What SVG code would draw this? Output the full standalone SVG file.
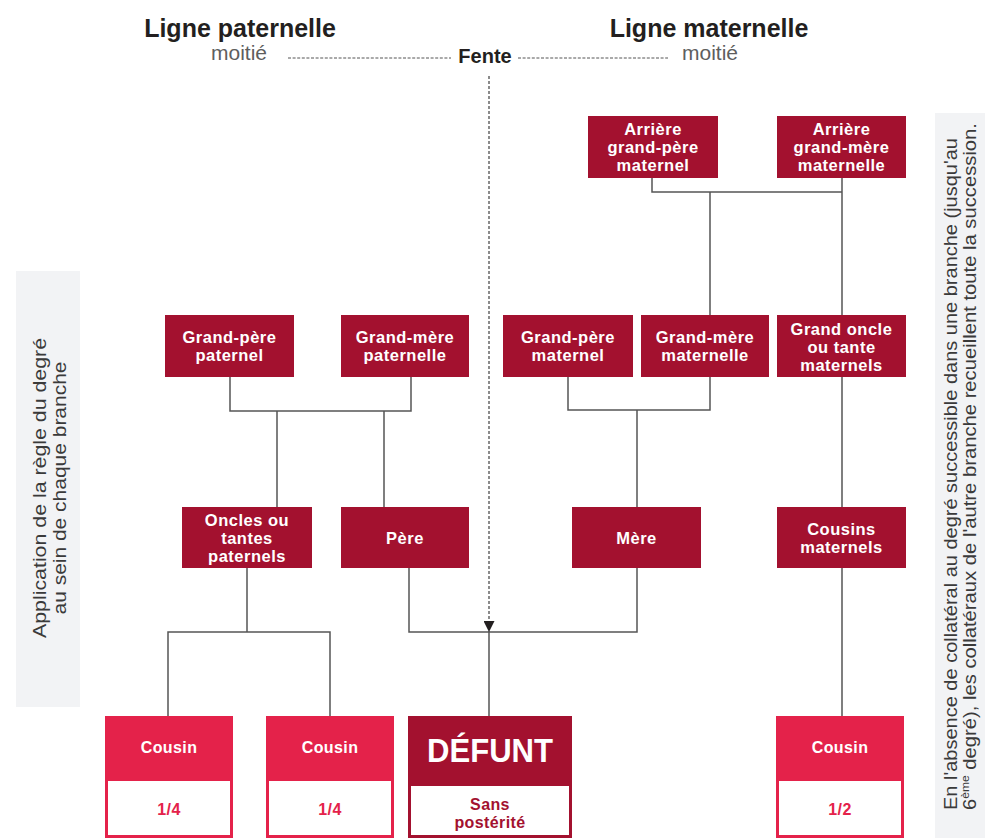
<svg xmlns="http://www.w3.org/2000/svg" width="987" height="838" viewBox="0 0 987 838">
<defs>
<style>
.dk{fill:#a3112f}
.br{fill:#e4224a}
.nt{font-family:'Liberation Sans',Arial,sans-serif;font-weight:bold;font-size:16.5px;fill:#fff;text-anchor:middle;letter-spacing:0.5px}
.ct{font-family:'Liberation Sans',Arial,sans-serif;font-weight:bold;font-size:16px;fill:#fff;text-anchor:middle;letter-spacing:0.4px}
.fr{font-family:'Liberation Sans',Arial,sans-serif;font-weight:bold;font-size:16px;fill:#e4224a;text-anchor:middle;letter-spacing:0.4px}
.frd{font-family:'Liberation Sans',Arial,sans-serif;font-weight:bold;font-size:16px;fill:#a3112f;text-anchor:middle;letter-spacing:0.4px}
.hd{font-family:'Liberation Sans',Arial,sans-serif;font-weight:bold;font-size:25px;fill:#231f20;text-anchor:middle}
.mo{font-family:'Liberation Sans',Arial,sans-serif;font-size:21px;fill:#5e5e5e;text-anchor:middle}
.side{font-family:'Liberation Sans',Arial,sans-serif;font-size:18.5px;fill:#3a3a3a}
.ln{stroke:#555;stroke-width:1.5;fill:none}
.wp{fill:#fff;stroke:#e4224a;stroke-width:3}
.wpd{fill:#fff;stroke:#a3112f;stroke-width:3}
</style>
<marker id="arr" viewBox="0 0 10 10" refX="10" refY="5" markerUnits="userSpaceOnUse" markerWidth="13" markerHeight="11" orient="auto">
<path d="M0,0 L10,5 L0,10 z" fill="#231f20"/>
</marker>
</defs>
<rect width="987" height="838" fill="#fff"/>

<g id="header">
<text class="hd" x="240" y="37">Ligne paternelle</text>
<text class="hd" x="709" y="37">Ligne maternelle</text>
<text class="mo" x="239" y="60">moitié</text>
<text class="mo" x="710" y="60">moitié</text>
<text x="485" y="63" font-family="'Liberation Sans',Arial,sans-serif" font-weight="bold" font-size="20" fill="#231f20" text-anchor="middle">Fente</text>
<path d="M288,58 H451 M518,58 H668" stroke="#555" stroke-width="1" stroke-dasharray="3 1.6" fill="none"/>
</g>

<g id="side-left">
<rect x="16" y="271" width="64" height="436" fill="#f2f3f5"/>
<text class="side" transform="translate(46,488) rotate(-90)" text-anchor="middle" textLength="300" lengthAdjust="spacingAndGlyphs">Application de la règle du degré</text>
<text class="side" transform="translate(66,488) rotate(-90)" text-anchor="middle" textLength="253" lengthAdjust="spacingAndGlyphs">au sein de chaque branche</text>
</g>

<g id="side-right">
<rect x="935" y="113" width="50" height="725" fill="#f2f3f5"/>
<text class="side" transform="translate(957,810) rotate(-90)" textLength="672" lengthAdjust="spacingAndGlyphs">En l'absence de collatéral au degré successible dans une branche (jusqu'au</text>
<text class="side" transform="translate(976,810) rotate(-90)" textLength="687" lengthAdjust="spacingAndGlyphs">6<tspan font-size="11" dy="-7">ème</tspan><tspan dy="7"> degré), les collatéraux de l'autre branche recueillent toute la succession.</tspan></text>
</g>

<g id="connectors">
<path class="ln" d="M652,178 V192 H842"/>
<path class="ln" d="M710,192 V315"/>
<path class="ln" d="M842,178 V315"/>
<path class="ln" d="M842,377 V507"/>
<path class="ln" d="M842,568 V716"/>
<path class="ln" d="M230,377 V411 H411 V377"/>
<path class="ln" d="M277,411 V507 M384,411 V507"/>
<path class="ln" d="M568,377 V410 H710 V377"/>
<path class="ln" d="M637,410 V507"/>
<path class="ln" d="M247,568 V632 M168,716 V632 H330 V716"/>
<path class="ln" d="M409,568 V632 H637 V568"/>
<path class="ln" d="M489,632 V716"/>
<path d="M489,76 V632" stroke="#666" stroke-width="1.5" stroke-dasharray="3 2" fill="none" marker-end="url(#arr)"/>
</g>

<g id="arriere-gp-maternel">
<rect class="dk" x="588" y="116" width="130" height="62"/>
<text class="nt" x="653" y="135">Arrière</text>
<text class="nt" x="653" y="153">grand-père</text>
<text class="nt" x="653" y="171">maternel</text>
</g>
<g id="arriere-gm-maternelle">
<rect class="dk" x="777" y="116" width="129" height="62"/>
<text class="nt" x="841.5" y="135">Arrière</text>
<text class="nt" x="841.5" y="153">grand-mère</text>
<text class="nt" x="841.5" y="171">maternelle</text>
</g>
<g id="gp-paternel">
<rect class="dk" x="165" y="315" width="129" height="62"/>
<text class="nt" x="229.5" y="343">Grand-père</text>
<text class="nt" x="229.5" y="361">paternel</text>
</g>
<g id="gm-paternelle">
<rect class="dk" x="341" y="315" width="128" height="62"/>
<text class="nt" x="405" y="343">Grand-mère</text>
<text class="nt" x="405" y="361">paternelle</text>
</g>
<g id="gp-maternel">
<rect class="dk" x="503" y="315" width="130" height="62"/>
<text class="nt" x="568" y="343">Grand-père</text>
<text class="nt" x="568" y="361">maternel</text>
</g>
<g id="gm-maternelle">
<rect class="dk" x="641" y="315" width="128" height="62"/>
<text class="nt" x="705" y="343">Grand-mère</text>
<text class="nt" x="705" y="361">maternelle</text>
</g>
<g id="grand-oncle">
<rect class="dk" x="777" y="315" width="129" height="62"/>
<text class="nt" x="841.5" y="335">Grand oncle</text>
<text class="nt" x="841.5" y="353">ou tante</text>
<text class="nt" x="841.5" y="371">maternels</text>
</g>
<g id="oncles">
<rect class="dk" x="182" y="507" width="130" height="61"/>
<text class="nt" x="247" y="526">Oncles ou</text>
<text class="nt" x="247" y="544">tantes</text>
<text class="nt" x="247" y="562">paternels</text>
</g>
<g id="pere">
<rect class="dk" x="341" y="507" width="128" height="61"/>
<text class="nt" x="405" y="544">Père</text>
</g>
<g id="mere">
<rect class="dk" x="572" y="507" width="129" height="61"/>
<text class="nt" x="636.5" y="544">Mère</text>
</g>
<g id="cousins-maternels">
<rect class="dk" x="777" y="507" width="129" height="61"/>
<text class="nt" x="841.5" y="535">Cousins</text>
<text class="nt" x="841.5" y="553">maternels</text>
</g>

<g id="cousin-1">
<rect class="br" x="105" y="716" width="128" height="124"/>
<rect class="wp" x="106.5" y="779.5" width="125" height="57"/>
<text class="ct" x="169" y="753">Cousin</text>
<text class="fr" x="169" y="815">1/4</text>
</g>
<g id="cousin-2">
<rect class="br" x="266" y="716" width="128" height="124"/>
<rect class="wp" x="267.5" y="779.5" width="125" height="57"/>
<text class="ct" x="330" y="753">Cousin</text>
<text class="fr" x="330" y="815">1/4</text>
</g>
<g id="defunt">
<rect class="dk" x="408" y="716" width="164" height="124"/>
<rect class="wpd" x="409.5" y="784.5" width="161" height="52"/>
<text x="490" y="762" font-family="'Liberation Sans',Arial,sans-serif" font-weight="bold" font-size="33" fill="#fff" text-anchor="middle" textLength="126" lengthAdjust="spacingAndGlyphs">DÉFUNT</text>
<text class="frd" x="490" y="810">Sans</text>
<text class="frd" x="490" y="828">postérité</text>
</g>
<g id="cousin-3">
<rect class="br" x="776" y="716" width="128" height="124"/>
<rect class="wp" x="777.5" y="779.5" width="125" height="57"/>
<text class="ct" x="840" y="753">Cousin</text>
<text class="fr" x="840" y="815">1/2</text>
</g>
</svg>
